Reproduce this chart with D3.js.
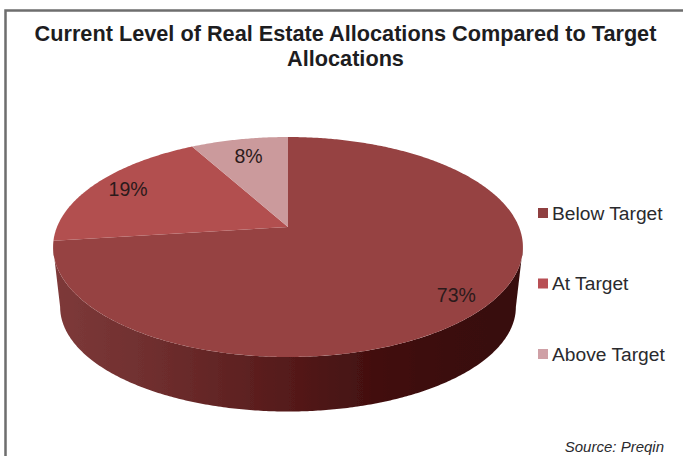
<!DOCTYPE html>
<html lang="en">
<head>
<meta charset="UTF-8">
<title>Real Estate Allocations</title>
<script src="https://d3js.org/d3.v7.min.js"></script>
<style>
  html, body { margin: 0; padding: 0; background: #fff; }
  svg { display: block; }
  text { font-family: "Liberation Sans", Arial, sans-serif; }
</style>
</head>
<body>
<script>
const categories = ['Below Target', 'At Target', 'Above Target'];
const values = [73, 19, 8];
const colors = ['#964343', '#b25050', '#cb9a9c'];
const legendColors = ['#8f3f40', '#b84f54', '#cfa0a6'];
const titleLines = ['Current Level of Real Estate Allocations Compared to Target', 'Allocations'];
const source = 'Source: Preqin';

const width = 683;
const height = 456;

const svg = d3.select('body').append('svg')
  .attr('width', width)
  .attr('height', height);

// frame runs off the right and bottom of the image
svg.append('rect')
  .attr('x', 5.5).attr('y', 10.5)
  .attr('width', width + 20).attr('height', height + 20)
  .attr('fill', '#fff')
  .attr('stroke', '#6e6e6e')
  .attr('stroke-width', 2.5);

svg.selectAll('.title')
  .data(titleLines)
  .enter().append('text')
  .attr('class', 'title')
  .attr('x', 345.5)
  .attr('y', (d, i) => 41 + i * 25)
  .attr('text-anchor', 'middle')
  .attr('font-size', 21.7)
  .attr('font-weight', 'bold')
  .attr('fill', '#1d1d1f')
  .text(d => d);

// tilted disc: perspective map from the unit circle to the screen
const cx = 288, R = 231, apexY = 227, a = 65.1, c = -0.1818;
function project(angle, r) {
  const x = r * Math.sin(angle);
  const u = -r * Math.cos(angle);
  const d = 1 + c * u;
  return [cx + R * x / d, (a * u + apexY) / d];
}
// the base of the pie is a bit smaller and lower
function projectBase(angle) {
  const p = project(angle, 1);
  return [cx + (p[0] - cx) * 0.97, 307 + (p[1] - 247) * 0.95];
}

const pie = d3.pie().sort(null).value(d => d);
const arcs = pie(values);
const line = d3.line();

function arcPoints(start, end, fn) {
  const n = Math.max(2, Math.ceil((end - start) / 0.01));
  return d3.range(n + 1).map(i => fn(start + (end - start) * i / n));
}

const defs = svg.append('defs');
const grad = defs.append('linearGradient')
  .attr('id', 'side')
  .attr('gradientUnits', 'userSpaceOnUse')
  .attr('x1', 53).attr('x2', 523).attr('y1', 0).attr('y2', 0);
[[0, '#7e3a3a'], [0.25, '#6c2c2c'], [0.5, '#551a1a'], [0.68, '#431010'], [0.85, '#3a0c0c'], [1, '#380b0b']]
  .forEach(s => grad.append('stop').attr('offset', s[0]).attr('stop-color', s[1]));

const blur = defs.append('filter').attr('id', 'soft');
blur.append('feGaussianBlur').attr('stdDeviation', 0.5);

const pieG = svg.append('g').attr('filter', 'url(#soft)');

// side wall, front half only
const sideStart = Math.PI * 100.5 / 180;
const sideEnd = Math.PI * 259.5 / 180;
const front = arcPoints(sideStart, sideEnd, t => project(t, 1));
const back = arcPoints(sideStart, sideEnd, projectBase).reverse();
pieG.append('path')
  .attr('d', line(front.concat(back)) + 'Z')
  .attr('fill', 'url(#side)');

pieG.selectAll('.slice')
  .data(arcs)
  .enter().append('path')
  .attr('class', 'slice')
  .attr('d', d => line([[cx, apexY]].concat(arcPoints(d.startAngle, d.endAngle, t => project(t, 1)))) + 'Z')
  .attr('fill', (d, i) => colors[i]);

const labelRadius = [0.87, 0.83, 0.78];
svg.selectAll('.pct')
  .data(arcs)
  .enter().append('text')
  .attr('class', 'pct')
  .attr('x', (d, i) => project((d.startAngle + d.endAngle) / 2, labelRadius[i])[0])
  .attr('y', (d, i) => project((d.startAngle + d.endAngle) / 2, labelRadius[i])[1] + 7)
  .attr('text-anchor', 'middle')
  .attr('font-size', 19.5)
  .attr('fill', '#2b1a1b')
  .text(d => d.value + '%');

const legendY = d3.scalePoint().domain(categories).range([213, 354]);
const legend = svg.selectAll('.legend')
  .data(categories)
  .enter().append('g')
  .attr('class', 'legend')
  .attr('transform', d => `translate(538,${legendY(d)})`);
legend.append('rect')
  .attr('x', 0).attr('y', -5)
  .attr('width', 10).attr('height', 10)
  .attr('fill', (d, i) => legendColors[i]);
legend.append('text')
  .attr('x', 14).attr('y', 6.5)
  .attr('font-size', 19.2)
  .attr('fill', '#2a2a2e')
  .text(d => d);

svg.append('text')
  .attr('x', 664).attr('y', 451.5)
  .attr('text-anchor', 'end')
  .attr('font-size', 15)
  .attr('font-style', 'italic')
  .attr('fill', '#2a2a2e')
  .text(source);
</script>
</body>
</html>
